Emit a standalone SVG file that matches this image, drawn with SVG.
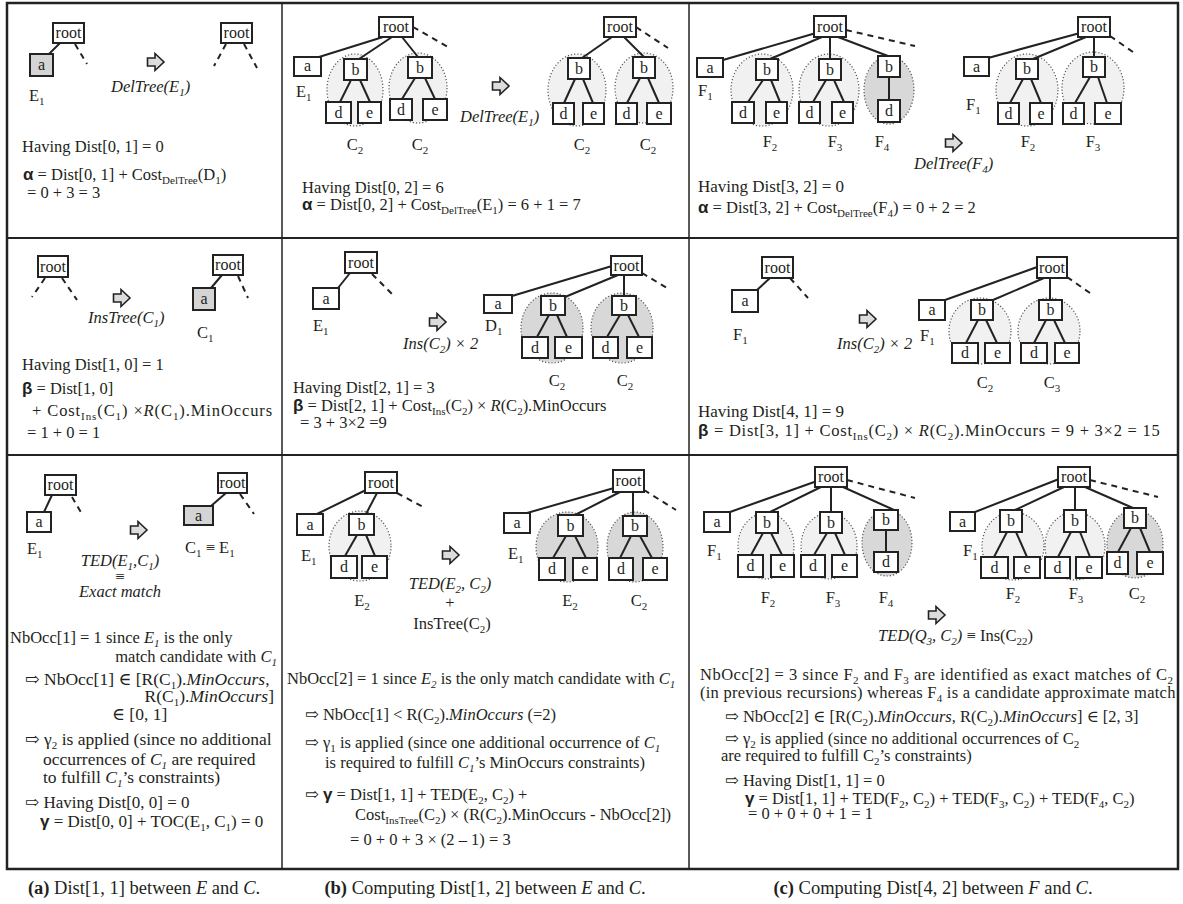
<svg xmlns="http://www.w3.org/2000/svg" xmlns:xlink="http://www.w3.org/1999/xlink" width="1183" height="904" viewBox="0 0 1183 904">
<style>
text { font-family: "Liberation Serif", "DejaVu Serif", serif; fill: #231f20; font-size: 16.5px; }
.nd rect { fill: #fff; stroke: #222; stroke-width: 2; }
.nd.gr rect { fill: #d4d4d4; }
.nd text { font-size: 16px; text-anchor: middle; }
.cn line { stroke: #222; stroke-width: 2; }
.cn line.ds { stroke-dasharray: 6 5; }
.el { fill: #f1f1f1; stroke: #555; stroke-width: 1.2; stroke-dasharray: 1.2 2; }
.ed { fill: #d8d8d8; stroke: #555; stroke-width: 1.2; stroke-dasharray: 1.2 2; }
.i { font-style: italic; }
.s { font-size: 11px; }
.gk { font-family: "Liberation Sans", "DejaVu Sans", sans-serif; font-weight: bold; font-size: 17px; }
.m { text-anchor: middle; }
.e { text-anchor: end; }
.cap { font-size: 18.5px; text-anchor: middle; }
.big { font-size: 17.5px; }
.mid { font-size: 17px; }
.grid { fill: none; stroke: #222; }
</style>
<defs>
<path id="arw" d="M0.5 5 H8 V0.5 L17 9 L8 17.5 V13 H0.5 Z" fill="#dcdcdc" stroke="#222" stroke-width="1.6"/>
</defs>
<rect width="1183" height="904" fill="#fff"/>
<g id="grid" class="grid">
<rect x="7" y="3" width="1171" height="866" stroke-width="2.5"/>
<line x1="282" y1="3" x2="282" y2="869" stroke-width="1.5"/>
<line x1="689" y1="3" x2="689" y2="869" stroke-width="1.5"/>
<line x1="7" y1="238" x2="1178" y2="238" stroke-width="2"/>
<line x1="7" y1="455" x2="1178" y2="455" stroke-width="2"/>
</g>
<g id="regions">
<ellipse class="el" cx="355" cy="90" rx="28" ry="36"/>
<ellipse class="el" cx="418" cy="88" rx="29" ry="35"/>
<ellipse class="el" cx="577" cy="90" rx="29" ry="36"/>
<ellipse class="el" cx="644" cy="88" rx="29" ry="35"/>
<ellipse class="el" cx="762" cy="90" rx="31" ry="36"/>
<ellipse class="el" cx="829" cy="90" rx="30" ry="36"/>
<ellipse class="ed" cx="889" cy="90" rx="25" ry="34"/>
<ellipse class="el" cx="1027" cy="90" rx="31" ry="36"/>
<ellipse class="el" cx="1093" cy="88" rx="31" ry="36"/>
<ellipse class="ed" cx="552" cy="328" rx="31" ry="35"/>
<ellipse class="ed" cx="622" cy="328" rx="31" ry="35"/>
<ellipse class="el" cx="980" cy="331" rx="31" ry="33"/>
<ellipse class="el" cx="1049" cy="331" rx="31" ry="33"/>
<ellipse class="el" cx="360" cy="546" rx="31" ry="35"/>
<ellipse class="ed" cx="567" cy="547" rx="31" ry="35"/>
<ellipse class="ed" cx="635" cy="547" rx="28" ry="35"/>
<ellipse class="el" cx="766" cy="546" rx="28" ry="33"/>
<ellipse class="el" cx="829" cy="546" rx="28" ry="33"/>
<ellipse class="ed" cx="887" cy="543" rx="25" ry="33"/>
<ellipse class="el" cx="1013" cy="546" rx="31" ry="34"/>
<ellipse class="el" cx="1075" cy="546" rx="30" ry="34"/>
<ellipse class="ed" cx="1135" cy="544" rx="28" ry="34"/>
</g>
<g id="connectors" class="cn">
<line x1="60" y1="43" x2="49" y2="54"/>
<line class="ds" x1="75" y1="44" x2="87" y2="64"/>
<line class="ds" x1="226" y1="44" x2="214" y2="66"/>
<line class="ds" x1="244" y1="44" x2="257" y2="68"/>
<line x1="383" y1="37" x2="319" y2="57"/>
<line x1="392" y1="37" x2="359" y2="59"/>
<line x1="402" y1="37" x2="418" y2="57"/>
<line x1="351" y1="80" x2="340" y2="102"/>
<line x1="360" y1="80" x2="370" y2="102"/>
<line x1="415" y1="78" x2="402" y2="99"/>
<line x1="425" y1="78" x2="435" y2="99"/>
<line class="ds" x1="413" y1="27" x2="448" y2="47"/>
<line x1="612" y1="37" x2="582" y2="58"/>
<line x1="624" y1="37" x2="644" y2="57"/>
<line class="ds" x1="636" y1="27" x2="668" y2="48"/>
<line x1="575" y1="79" x2="564" y2="103"/>
<line x1="583" y1="79" x2="593" y2="103"/>
<line x1="640" y1="78" x2="627" y2="103"/>
<line x1="648" y1="78" x2="659" y2="103"/>
<line x1="816" y1="33" x2="723" y2="60"/>
<line x1="822" y1="37" x2="770" y2="59"/>
<line x1="830" y1="37" x2="830" y2="59"/>
<line x1="838" y1="37" x2="888" y2="56"/>
<line class="ds" x1="846" y1="30" x2="915" y2="46"/>
<line x1="763" y1="80" x2="748" y2="102"/>
<line x1="771" y1="80" x2="780" y2="102"/>
<line x1="826" y1="80" x2="813" y2="102"/>
<line x1="834" y1="80" x2="844" y2="102"/>
<line x1="889" y1="77" x2="889" y2="100"/>
<line x1="1080" y1="33" x2="988" y2="58"/>
<line x1="1086" y1="37" x2="1033" y2="59"/>
<line x1="1094" y1="37" x2="1094" y2="57"/>
<line class="ds" x1="1110" y1="36" x2="1133" y2="52"/>
<line x1="1023" y1="79" x2="1010" y2="103"/>
<line x1="1031" y1="79" x2="1041" y2="103"/>
<line x1="1090" y1="77" x2="1075" y2="103"/>
<line x1="1098" y1="77" x2="1107" y2="103"/>
<line class="ds" x1="45" y1="278" x2="32" y2="297"/>
<line class="ds" x1="62" y1="278" x2="77" y2="300"/>
<line x1="222" y1="275" x2="211" y2="288"/>
<line class="ds" x1="238" y1="276" x2="248" y2="298"/>
<line x1="350" y1="273" x2="338" y2="288"/>
<line class="ds" x1="372" y1="274" x2="395" y2="297"/>
<line x1="612" y1="266" x2="512" y2="296"/>
<line x1="618" y1="275" x2="565" y2="297"/>
<line x1="624" y1="275" x2="624" y2="296"/>
<line class="ds" x1="642" y1="273" x2="667" y2="288"/>
<line x1="549" y1="315" x2="537" y2="337"/>
<line x1="557" y1="315" x2="567" y2="337"/>
<line x1="620" y1="315" x2="607" y2="337"/>
<line x1="628" y1="315" x2="639" y2="337"/>
<line x1="770" y1="278" x2="757" y2="290"/>
<line class="ds" x1="790" y1="278" x2="808" y2="298"/>
<line x1="1040" y1="266" x2="945" y2="300"/>
<line x1="1044" y1="278" x2="993" y2="300"/>
<line x1="1050" y1="278" x2="1050" y2="300"/>
<line class="ds" x1="1067" y1="277" x2="1090" y2="293"/>
<line x1="978" y1="320" x2="966" y2="343"/>
<line x1="986" y1="320" x2="997" y2="343"/>
<line x1="1046" y1="320" x2="1034" y2="343"/>
<line x1="1054" y1="320" x2="1065" y2="343"/>
<line x1="52" y1="495" x2="44" y2="512"/>
<line class="ds" x1="72" y1="497" x2="82" y2="514"/>
<line x1="226" y1="493" x2="211" y2="506"/>
<line class="ds" x1="240" y1="494" x2="254" y2="514"/>
<line x1="368" y1="489" x2="317" y2="514"/>
<line x1="377" y1="493" x2="366" y2="514"/>
<line class="ds" x1="397" y1="493" x2="425" y2="508"/>
<line x1="357" y1="535" x2="345" y2="556"/>
<line x1="366" y1="535" x2="375" y2="556"/>
<line x1="614" y1="488" x2="527" y2="513"/>
<line x1="620" y1="492" x2="575" y2="515"/>
<line x1="633" y1="492" x2="633" y2="516"/>
<line class="ds" x1="644" y1="490" x2="676" y2="510"/>
<line x1="566" y1="536" x2="553" y2="558"/>
<line x1="575" y1="536" x2="586" y2="558"/>
<line x1="631" y1="536" x2="620" y2="558"/>
<line x1="640" y1="536" x2="652" y2="558"/>
<line x1="817" y1="481" x2="730" y2="512"/>
<line x1="821" y1="487" x2="770" y2="512"/>
<line x1="831" y1="487" x2="831" y2="512"/>
<line x1="843" y1="487" x2="894" y2="510"/>
<line class="ds" x1="847" y1="480" x2="915" y2="498"/>
<line x1="763" y1="533" x2="751" y2="555"/>
<line x1="771" y1="533" x2="782" y2="555"/>
<line x1="827" y1="533" x2="814" y2="555"/>
<line x1="835" y1="533" x2="845" y2="555"/>
<line x1="886" y1="530" x2="886" y2="552"/>
<line x1="1059" y1="479" x2="975" y2="512"/>
<line x1="1064" y1="487" x2="1015" y2="510"/>
<line x1="1075" y1="487" x2="1075" y2="510"/>
<line x1="1085" y1="487" x2="1133" y2="508"/>
<line class="ds" x1="1090" y1="480" x2="1158" y2="497"/>
<line x1="1007" y1="532" x2="994" y2="557"/>
<line x1="1016" y1="532" x2="1027" y2="557"/>
<line x1="1071" y1="532" x2="1058" y2="557"/>
<line x1="1080" y1="532" x2="1090" y2="557"/>
<line x1="1131" y1="528" x2="1118" y2="552"/>
<line x1="1140" y1="528" x2="1150" y2="552"/>
</g>
<g id="nodes">
<g id="a1-root" class="nd"><rect x="53" y="23" width="31" height="20"/><text x="68.5" y="38">root</text></g>
<g id="a1-a" class="nd gr"><rect x="30" y="54" width="23" height="22"/><text x="41.5" y="70">a</text></g>
<g id="a1-root2" class="nd"><rect x="221" y="23" width="31" height="20"/><text x="236.5" y="38">root</text></g>
<g id="b1-root" class="nd"><rect x="379" y="17" width="34" height="20"/><text x="396" y="32">root</text></g>
<g id="b1-a" class="nd"><rect x="294" y="57" width="27" height="19"/><text x="307.5" y="71">a</text></g>
<g id="b1-b1" class="nd"><rect x="344" y="59" width="23" height="21"/><text x="355.5" y="74.5">b</text></g>
<g id="b1-d1" class="nd"><rect x="326" y="102" width="25" height="21"/><text x="338.5" y="117.5">d</text></g>
<g id="b1-e1" class="nd"><rect x="358" y="102" width="23" height="21"/><text x="369.5" y="117.5">e</text></g>
<g id="b1-b2" class="nd"><rect x="408" y="57" width="24" height="21"/><text x="420" y="72.5">b</text></g>
<g id="b1-d2" class="nd"><rect x="390" y="99" width="22" height="21"/><text x="401" y="114.5">d</text></g>
<g id="b1-e2" class="nd"><rect x="423" y="99" width="24" height="21"/><text x="435" y="114.5">e</text></g>
<g id="b1r-root" class="nd"><rect x="604" y="17" width="32" height="20"/><text x="620" y="32">root</text></g>
<g id="b1r-b1" class="nd"><rect x="568" y="58" width="22" height="21"/><text x="579" y="73.5">b</text></g>
<g id="b1r-d1" class="nd"><rect x="553" y="103" width="21" height="21"/><text x="563.5" y="118.5">d</text></g>
<g id="b1r-e1" class="nd"><rect x="583" y="103" width="21" height="21"/><text x="593.5" y="118.5">e</text></g>
<g id="b1r-b2" class="nd"><rect x="633" y="57" width="22" height="21"/><text x="644" y="72.5">b</text></g>
<g id="b1r-d2" class="nd"><rect x="616" y="103" width="21" height="21"/><text x="626.5" y="118.5">d</text></g>
<g id="b1r-e2" class="nd"><rect x="647" y="103" width="24" height="21"/><text x="659" y="118.5">e</text></g>
<g id="c1-root" class="nd"><rect x="814" y="16" width="32" height="21"/><text x="830" y="31.5">root</text></g>
<g id="c1-a" class="nd"><rect x="697" y="58" width="26" height="19"/><text x="710" y="72.5">a</text></g>
<g id="c1-b1" class="nd"><rect x="756" y="59" width="22" height="21"/><text x="767" y="74.5">b</text></g>
<g id="c1-d1" class="nd"><rect x="732" y="102" width="22" height="21"/><text x="743" y="117.5">d</text></g>
<g id="c1-e1" class="nd"><rect x="766" y="102" width="21" height="21"/><text x="776.5" y="117.5">e</text></g>
<g id="c1-b2" class="nd"><rect x="819" y="59" width="22" height="21"/><text x="830" y="74.5">b</text></g>
<g id="c1-d2" class="nd"><rect x="799" y="102" width="21" height="21"/><text x="809.5" y="117.5">d</text></g>
<g id="c1-e2" class="nd"><rect x="832" y="102" width="21" height="21"/><text x="842.5" y="117.5">e</text></g>
<g id="c1-b3" class="nd"><rect x="878" y="56" width="22" height="21"/><text x="889" y="71.5">b</text></g>
<g id="c1-d3" class="nd"><rect x="878" y="100" width="22" height="22"/><text x="889" y="116">d</text></g>
<g id="c1r-root" class="nd"><rect x="1078" y="17" width="32" height="20"/><text x="1094" y="32">root</text></g>
<g id="c1r-a" class="nd"><rect x="964" y="57" width="25" height="19"/><text x="976.5" y="71.5">a</text></g>
<g id="c1r-b1" class="nd"><rect x="1016" y="59" width="22" height="20"/><text x="1027" y="74">b</text></g>
<g id="c1r-d1" class="nd"><rect x="998" y="103" width="21" height="21"/><text x="1008.5" y="118.5">d</text></g>
<g id="c1r-e1" class="nd"><rect x="1030" y="103" width="22" height="21"/><text x="1041" y="118.5">e</text></g>
<g id="c1r-b2" class="nd"><rect x="1083" y="57" width="22" height="20"/><text x="1094" y="72">b</text></g>
<g id="c1r-d2" class="nd"><rect x="1063" y="103" width="21" height="21"/><text x="1073.5" y="118.5">d</text></g>
<g id="c1r-e2" class="nd"><rect x="1095" y="103" width="26" height="21"/><text x="1108" y="118.5">e</text></g>
<g id="a2-root" class="nd"><rect x="38" y="256" width="30" height="21"/><text x="53" y="271.5">root</text></g>
<g id="a2-root2" class="nd"><rect x="213" y="255" width="30" height="20"/><text x="228" y="270">root</text></g>
<g id="a2-a" class="nd gr"><rect x="193" y="288" width="22" height="22"/><text x="204" y="304">a</text></g>
<g id="b2-root" class="nd"><rect x="345" y="252" width="32" height="21"/><text x="361" y="267.5">root</text></g>
<g id="b2-a" class="nd"><rect x="313" y="288" width="26" height="21"/><text x="326" y="303.5">a</text></g>
<g id="b2r-root" class="nd"><rect x="611" y="256" width="31" height="19"/><text x="626.5" y="270.5">root</text></g>
<g id="b2r-a" class="nd"><rect x="484" y="295" width="28" height="18"/><text x="498" y="309">a</text></g>
<g id="b2r-b1" class="nd"><rect x="541" y="296" width="24" height="19"/><text x="553" y="310.5">b</text></g>
<g id="b2r-d1" class="nd"><rect x="522" y="337" width="26" height="21"/><text x="535" y="352.5">d</text></g>
<g id="b2r-e1" class="nd"><rect x="555" y="337" width="27" height="21"/><text x="568.5" y="352.5">e</text></g>
<g id="b2r-b2" class="nd"><rect x="612" y="296" width="24" height="19"/><text x="624" y="310.5">b</text></g>
<g id="b2r-d2" class="nd"><rect x="593" y="337" width="25" height="21"/><text x="605.5" y="352.5">d</text></g>
<g id="b2r-e2" class="nd"><rect x="627" y="337" width="25" height="21"/><text x="639.5" y="352.5">e</text></g>
<g id="c2-root" class="nd"><rect x="762" y="257" width="31" height="21"/><text x="777.5" y="272.5">root</text></g>
<g id="c2-a" class="nd"><rect x="732" y="290" width="26" height="22"/><text x="745" y="306">a</text></g>
<g id="c2r-root" class="nd"><rect x="1037" y="257" width="30" height="21"/><text x="1052" y="272.5">root</text></g>
<g id="c2r-a" class="nd"><rect x="919" y="300" width="26" height="20"/><text x="932" y="315">a</text></g>
<g id="c2r-b1" class="nd"><rect x="971" y="300" width="22" height="20"/><text x="982" y="315">b</text></g>
<g id="c2r-d1" class="nd"><rect x="952" y="343" width="26" height="20"/><text x="965" y="358">d</text></g>
<g id="c2r-e1" class="nd"><rect x="985" y="343" width="25" height="20"/><text x="997.5" y="358">e</text></g>
<g id="c2r-b2" class="nd"><rect x="1039" y="300" width="23" height="20"/><text x="1050.5" y="315">b</text></g>
<g id="c2r-d2" class="nd"><rect x="1021" y="343" width="26" height="20"/><text x="1034" y="358">d</text></g>
<g id="c2r-e2" class="nd"><rect x="1055" y="343" width="24" height="20"/><text x="1067" y="358">e</text></g>
<g id="a3-root" class="nd"><rect x="45" y="475" width="31" height="20"/><text x="60.5" y="490">root</text></g>
<g id="a3-a" class="nd"><rect x="27" y="512" width="24" height="20"/><text x="39" y="527">a</text></g>
<g id="a3-root2" class="nd"><rect x="218" y="473" width="29" height="20"/><text x="232.5" y="488">root</text></g>
<g id="a3-a2" class="nd gr"><rect x="184" y="506" width="29" height="19"/><text x="198.5" y="520.5">a</text></g>
<g id="b3-root" class="nd"><rect x="365" y="472" width="32" height="21"/><text x="381" y="487.5">root</text></g>
<g id="b3-a" class="nd"><rect x="297" y="514" width="26" height="21"/><text x="310" y="529.5">a</text></g>
<g id="b3-b" class="nd"><rect x="349" y="514" width="25" height="21"/><text x="361.5" y="529.5">b</text></g>
<g id="b3-d" class="nd"><rect x="331" y="556" width="26" height="22"/><text x="344" y="572">d</text></g>
<g id="b3-e" class="nd"><rect x="362" y="556" width="25" height="22"/><text x="374.5" y="572">e</text></g>
<g id="b3r-root" class="nd"><rect x="613" y="470" width="31" height="22"/><text x="628.5" y="486">root</text></g>
<g id="b3r-a" class="nd"><rect x="504" y="513" width="26" height="20"/><text x="517" y="528">a</text></g>
<g id="b3r-b1" class="nd"><rect x="558" y="515" width="25" height="21"/><text x="570.5" y="530.5">b</text></g>
<g id="b3r-d1" class="nd"><rect x="539" y="558" width="26" height="22"/><text x="552" y="574">d</text></g>
<g id="b3r-e1" class="nd"><rect x="573" y="558" width="24" height="22"/><text x="585" y="574">e</text></g>
<g id="b3r-b2" class="nd"><rect x="623" y="516" width="24" height="20"/><text x="635" y="531">b</text></g>
<g id="b3r-d2" class="nd"><rect x="609" y="558" width="24" height="22"/><text x="621" y="574">d</text></g>
<g id="b3r-e2" class="nd"><rect x="643" y="558" width="24" height="22"/><text x="655" y="574">e</text></g>
<g id="c3-root" class="nd"><rect x="815" y="467" width="32" height="20"/><text x="831" y="482">root</text></g>
<g id="c3-a" class="nd"><rect x="704" y="512" width="26" height="20"/><text x="717" y="527">a</text></g>
<g id="c3-b1" class="nd"><rect x="756" y="512" width="22" height="21"/><text x="767" y="527.5">b</text></g>
<g id="c3-d1" class="nd"><rect x="738" y="555" width="25" height="22"/><text x="750.5" y="571">d</text></g>
<g id="c3-e1" class="nd"><rect x="771" y="555" width="23" height="22"/><text x="782.5" y="571">e</text></g>
<g id="c3-b2" class="nd"><rect x="820" y="512" width="22" height="21"/><text x="831" y="527.5">b</text></g>
<g id="c3-d2" class="nd"><rect x="801" y="555" width="24" height="22"/><text x="813" y="571">d</text></g>
<g id="c3-e2" class="nd"><rect x="832" y="555" width="25" height="22"/><text x="844.5" y="571">e</text></g>
<g id="c3-b3" class="nd"><rect x="874" y="510" width="24" height="20"/><text x="886" y="525">b</text></g>
<g id="c3-d3" class="nd"><rect x="874" y="552" width="24" height="20"/><text x="886" y="567">d</text></g>
<g id="c3r-root" class="nd"><rect x="1058" y="467" width="32" height="20"/><text x="1074" y="482">root</text></g>
<g id="c3r-a" class="nd"><rect x="950" y="512" width="25" height="19"/><text x="962.5" y="526.5">a</text></g>
<g id="c3r-b1" class="nd"><rect x="1000" y="510" width="22" height="22"/><text x="1011" y="526">b</text></g>
<g id="c3r-d1" class="nd"><rect x="981" y="557" width="27" height="21"/><text x="994.5" y="572.5">d</text></g>
<g id="c3r-e1" class="nd"><rect x="1014" y="557" width="26" height="21"/><text x="1027" y="572.5">e</text></g>
<g id="c3r-b2" class="nd"><rect x="1064" y="510" width="22" height="22"/><text x="1075" y="526">b</text></g>
<g id="c3r-d2" class="nd"><rect x="1045" y="557" width="25" height="21"/><text x="1057.5" y="572.5">d</text></g>
<g id="c3r-e2" class="nd"><rect x="1076" y="557" width="26" height="21"/><text x="1089" y="572.5">e</text></g>
<g id="c3r-b3" class="nd"><rect x="1124" y="508" width="22" height="20"/><text x="1135" y="523">b</text></g>
<g id="c3r-d3" class="nd"><rect x="1107" y="552" width="21" height="22"/><text x="1117.5" y="568">d</text></g>
<g id="c3r-e3" class="nd"><rect x="1137" y="552" width="26" height="22"/><text x="1150" y="568">e</text></g>
</g>
<g id="arrows">
<use href="#arw" x="147" y="53"/>
<use href="#arw" x="492" y="77"/>
<use href="#arw" x="945" y="134"/>
<use href="#arw" x="113" y="289"/>
<use href="#arw" x="429" y="313"/>
<use href="#arw" x="859" y="310"/>
<use href="#arw" x="130" y="521"/>
<use href="#arw" x="442" y="546"/>
<use href="#arw" x="928" y="606"/>
</g>
<g id="labels">
<text x="29" y="101">E<tspan class="s" dy="4">1</tspan></text>
<text class="i" x="111" y="92">DelTree(E<tspan class="s" dy="4">1</tspan><tspan dy="-4">)</tspan></text>
<text x="22" y="152">Having Dist[0, 1] = 0</text>
<text x="23" y="180"><tspan class="gk">α</tspan> = Dist[0, 1] + Cost<tspan class="s" dy="4">DelTree</tspan><tspan dy="-4">(D</tspan><tspan class="s" dy="4">1</tspan><tspan dy="-4">)</tspan></text>
<text x="27" y="198">= 0 + 3 = 3</text>

<text x="296" y="97">E<tspan class="s" dy="4">1</tspan></text>
<text class="m" x="355" y="150">C<tspan class="s" dy="4">2</tspan></text>
<text class="m" x="420" y="150">C<tspan class="s" dy="4">2</tspan></text>
<text class="i" x="460" y="122">DelTree(E<tspan class="s" dy="4">1</tspan><tspan dy="-4">)</tspan></text>
<text class="m" x="582" y="150">C<tspan class="s" dy="4">2</tspan></text>
<text class="m" x="648" y="150">C<tspan class="s" dy="4">2</tspan></text>
<text x="302" y="193">Having Dist[0, 2] = 6</text>
<text x="302" y="210"><tspan class="gk">α</tspan> = Dist[0, 2] + Cost<tspan class="s" dy="4">DelTree</tspan><tspan dy="-4">(E</tspan><tspan class="s" dy="4">1</tspan><tspan dy="-4">) = 6 + 1 = 7</tspan></text>

<text x="698" y="96">F<tspan class="s" dy="4">1</tspan></text>
<text class="m" x="770" y="147">F<tspan class="s" dy="4">2</tspan></text>
<text class="m" x="835" y="147">F<tspan class="s" dy="4">3</tspan></text>
<text class="m" x="882" y="147">F<tspan class="s" dy="4">4</tspan></text>
<text class="i" x="914" y="169">DelTree(F<tspan class="s" dy="4">4</tspan><tspan dy="-4">)</tspan></text>
<text x="966" y="110">F<tspan class="s" dy="4">1</tspan></text>
<text class="m" x="1028" y="147">F<tspan class="s" dy="4">2</tspan></text>
<text class="m" x="1093" y="147">F<tspan class="s" dy="4">3</tspan></text>
<text class="mid" x="698" y="192">Having Dist[3, 2] = 0</text>
<text x="698" y="213"><tspan class="gk">α</tspan> = Dist[3, 2] + Cost<tspan class="s" dy="4">DelTree</tspan><tspan dy="-4">(F</tspan><tspan class="s" dy="4">4</tspan><tspan dy="-4">) = 0 + 2 = 2</tspan></text>

<text class="i" x="88" y="323">InsTree(C<tspan class="s" dy="4">1</tspan><tspan dy="-4">)</tspan></text>
<text x="197" y="338">C<tspan class="s" dy="4">1</tspan></text>
<text x="22" y="370">Having Dist[1, 0] = 1</text>
<text x="22" y="394"><tspan class="gk">β</tspan> = Dist[1, 0]</text>
<text x="32" y="416" letter-spacing="0.9">+ Cost<tspan class="s" dy="4">Ins</tspan><tspan dy="-4">(C</tspan><tspan class="s" dy="4">1</tspan><tspan dy="-4">) ×</tspan><tspan class="i">R</tspan>(C<tspan class="s" dy="4">1</tspan><tspan dy="-4">).MinOccurs</tspan></text>
<text x="27" y="438">= 1 + 0 = 1</text>

<text x="313" y="331">E<tspan class="s" dy="4">1</tspan></text>
<text class="i" x="403" y="349">Ins(C<tspan class="s" dy="4">2</tspan><tspan dy="-4">) × 2</tspan></text>
<text x="485" y="331">D<tspan class="s" dy="4">1</tspan></text>
<text class="m" x="557" y="386">C<tspan class="s" dy="4">2</tspan></text>
<text class="m" x="625" y="386">C<tspan class="s" dy="4">2</tspan></text>
<text x="293" y="393">Having Dist[2, 1] = 3</text>
<text x="293" y="411"><tspan class="gk">β</tspan> = Dist[2, 1] + Cost<tspan class="s" dy="4">Ins</tspan><tspan dy="-4">(C</tspan><tspan class="s" dy="4">2</tspan><tspan dy="-4">) × </tspan><tspan class="i">R</tspan>(C<tspan class="s" dy="4">2</tspan><tspan dy="-4">).MinOccurs</tspan></text>
<text x="300" y="428">= 3 + 3×2 =9</text>

<text x="733" y="340">F<tspan class="s" dy="4">1</tspan></text>
<text class="i" x="837" y="349">Ins(C<tspan class="s" dy="4">2</tspan><tspan dy="-4">) × 2</tspan></text>
<text x="920" y="341">F<tspan class="s" dy="4">1</tspan></text>
<text class="m" x="985" y="388">C<tspan class="s" dy="4">2</tspan></text>
<text class="m" x="1052" y="388">C<tspan class="s" dy="4">3</tspan></text>
<text class="mid" x="698" y="417">Having Dist[4, 1] = 9</text>
<text x="698" y="436" letter-spacing="0.75"><tspan class="gk">β</tspan> = Dist[3, 1] + Cost<tspan class="s" dy="4">Ins</tspan><tspan dy="-4">(C</tspan><tspan class="s" dy="4">2</tspan><tspan dy="-4">) × </tspan><tspan class="i">R</tspan>(C<tspan class="s" dy="4">2</tspan><tspan dy="-4">).MinOccurs = 9 + 3×2 = 15</tspan></text>

<text x="27" y="554">E<tspan class="s" dy="4">1</tspan></text>
<text class="i m" x="120" y="566">TED(E<tspan class="s" dy="4">1</tspan><tspan dy="-4">,C</tspan><tspan class="s" dy="4">1</tspan><tspan dy="-4">)</tspan></text>
<text class="m" x="120" y="582">≡</text>
<text class="i m" x="120" y="597">Exact match</text>
<text x="185" y="553">C<tspan class="s" dy="4">1</tspan><tspan dy="-4"> ≡ E</tspan><tspan class="s" dy="4">1</tspan></text>
<text x="10" y="643">NbOcc[1] = 1 since <tspan class="i">E</tspan><tspan class="s i" dy="4">1</tspan><tspan dy="-4"> is the only</tspan></text>
<text class="e" x="277" y="662">match candidate with <tspan class="i">C</tspan><tspan class="s i" dy="4">1</tspan></text>
<text class="big" x="25" y="685">⇨  NbOcc[1] ∈ [R(C<tspan class="s" dy="4">1</tspan><tspan dy="-4">).</tspan><tspan class="i">MinOccurs</tspan>,</text>
<text class="e big" x="274" y="702">R(C<tspan class="s" dy="4">1</tspan><tspan dy="-4">).</tspan><tspan class="i">MinOccurs</tspan>]</text>
<text class="big" x="112" y="720">∈ [0, 1]</text>
<text class="big" x="25" y="745">⇨ γ<tspan class="s" dy="4">2</tspan><tspan dy="-4"> is applied (since no additional</tspan></text>
<text class="big" x="43" y="765">occurrences of <tspan class="i">C</tspan><tspan class="s i" dy="4">1</tspan><tspan dy="-4"> are required</tspan></text>
<text class="big" x="43" y="783">to fulfill <tspan class="i">C</tspan><tspan class="s i" dy="4">1</tspan><tspan dy="-4">’s constraints)</tspan></text>
<text class="mid" x="25" y="808">⇨  Having Dist[0, 0] = 0</text>
<text class="mid" x="40" y="827"><tspan class="gk">γ</tspan> = Dist[0, 0] + TOC(E<tspan class="s" dy="4">1</tspan><tspan dy="-4">, C</tspan><tspan class="s" dy="4">1</tspan><tspan dy="-4">) = 0</tspan></text>

<text x="301" y="561">E<tspan class="s" dy="4">1</tspan></text>
<text class="m" x="362" y="606">E<tspan class="s" dy="4">2</tspan></text>
<text class="i m" x="450" y="589">TED(E<tspan class="s" dy="4">2</tspan><tspan dy="-4">, C</tspan><tspan class="s" dy="4">2</tspan><tspan dy="-4">)</tspan></text>
<text class="m" x="450" y="608">+</text>
<text class="m" x="452" y="629">InsTree(C<tspan class="s" dy="4">2</tspan><tspan dy="-4">)</tspan></text>
<text x="508" y="559">E<tspan class="s" dy="4">1</tspan></text>
<text class="m" x="570" y="606">E<tspan class="s" dy="4">2</tspan></text>
<text class="m" x="639" y="606">C<tspan class="s" dy="4">2</tspan></text>
<text x="287" y="684">NbOcc[2] = 1 since <tspan class="i">E</tspan><tspan class="s i" dy="4">2</tspan><tspan dy="-4"> is the only match candidate with </tspan><tspan class="i">C</tspan><tspan class="s i" dy="4">1</tspan></text>
<text x="305" y="720">⇨ NbOcc[1] &lt;  R(C<tspan class="s" dy="4">2</tspan><tspan dy="-4">).</tspan><tspan class="i">MinOccurs</tspan> (=2)</text>
<text x="305" y="748">⇨ γ<tspan class="s" dy="4">1</tspan><tspan dy="-4"> is applied (since one additional occurrence of </tspan><tspan class="i">C</tspan><tspan class="s i" dy="4">1</tspan></text>
<text x="325" y="768">is required to fulfill <tspan class="i">C</tspan><tspan class="s i" dy="4">1</tspan><tspan dy="-4">’s MinOccurs constraints)</tspan></text>
<text x="305" y="800">⇨ <tspan class="gk">γ</tspan> = Dist[1, 1] + TED(E<tspan class="s" dy="4">2</tspan><tspan dy="-4">, C</tspan><tspan class="s" dy="4">2</tspan><tspan dy="-4">) +</tspan></text>
<text x="355" y="820">Cost<tspan class="s" dy="4">InsTree</tspan><tspan dy="-4">(C</tspan><tspan class="s" dy="4">2</tspan><tspan dy="-4">) × (R(C</tspan><tspan class="s" dy="4">2</tspan><tspan dy="-4">).MinOccurs - NbOcc[2])</tspan></text>
<text x="350" y="845">= 0 + 0 + 3 × (2 – 1) = 3</text>

<text x="707" y="556">F<tspan class="s" dy="4">1</tspan></text>
<text class="m" x="768" y="603">F<tspan class="s" dy="4">2</tspan></text>
<text class="m" x="833" y="603">F<tspan class="s" dy="4">3</tspan></text>
<text class="m" x="886" y="603">F<tspan class="s" dy="4">4</tspan></text>
<text x="963" y="556">F<tspan class="s" dy="4">1</tspan></text>
<text class="m" x="1013" y="599">F<tspan class="s" dy="4">2</tspan></text>
<text class="m" x="1076" y="599">F<tspan class="s" dy="4">3</tspan></text>
<text class="m" x="1137" y="599">C<tspan class="s" dy="4">2</tspan></text>
<text x="878" y="641"><tspan class="i">TED(Q</tspan><tspan class="s i" dy="4">3</tspan><tspan class="i" dy="-4">, C</tspan><tspan class="s i" dy="4">2</tspan><tspan class="i" dy="-4">)</tspan> ≡ Ins(C<tspan class="s" dy="4">22</tspan><tspan dy="-4">)</tspan></text>
<text x="700" y="680" letter-spacing="0.5">NbOcc[2] = 3 since F<tspan class="s" dy="4">2</tspan><tspan dy="-4"> and F</tspan><tspan class="s" dy="4">3</tspan><tspan dy="-4"> are identified as exact matches of C</tspan><tspan class="s" dy="4">2</tspan></text>
<text x="700" y="698" letter-spacing="0.25">(in previous recursions) whereas F<tspan class="s" dy="4">4</tspan><tspan dy="-4"> is a candidate approximate match</tspan></text>
<text x="725" y="722">⇨ NbOcc[2] ∈ [R(C<tspan class="s" dy="4">2</tspan><tspan dy="-4">).</tspan><tspan class="i">MinOccurs</tspan>, R(C<tspan class="s" dy="4">2</tspan><tspan dy="-4">).</tspan><tspan class="i">MinOccurs</tspan>] ∈ [2, 3]</text>
<text x="725" y="744">⇨ γ<tspan class="s" dy="4">2</tspan><tspan dy="-4"> is applied (since no additional occurrences of C</tspan><tspan class="s" dy="4">2</tspan></text>
<text x="721" y="761">are required to fulfill C<tspan class="s" dy="4">2</tspan><tspan dy="-4">’s constraints)</tspan></text>
<text x="725" y="786">⇨  Having Dist[1, 1] = 0</text>
<text x="745" y="804"><tspan class="gk">γ</tspan> = Dist[1, 1] + TED(F<tspan class="s" dy="4">2</tspan><tspan dy="-4">, C</tspan><tspan class="s" dy="4">2</tspan><tspan dy="-4">) + TED(F</tspan><tspan class="s" dy="4">3</tspan><tspan dy="-4">, C</tspan><tspan class="s" dy="4">2</tspan><tspan dy="-4">) + TED(F</tspan><tspan class="s" dy="4">4</tspan><tspan dy="-4">, C</tspan><tspan class="s" dy="4">2</tspan><tspan dy="-4">)</tspan></text>
<text x="748" y="819">= 0 + 0 + 0 + 1 = 1</text>
</g>
<g id="captions">
<text class="cap" x="144" y="894"><tspan font-weight="bold">(a)</tspan> Dist[1, 1] between <tspan class="i">E</tspan> and <tspan class="i">C</tspan>.</text>
<text class="cap" x="485" y="894"><tspan font-weight="bold">(b)</tspan> Computing Dist[1, 2] between <tspan class="i">E</tspan> and <tspan class="i">C</tspan>.</text>
<text class="cap" x="933" y="894"><tspan font-weight="bold">(c)</tspan> Computing Dist[4, 2] between <tspan class="i">F</tspan> and <tspan class="i">C</tspan>.</text>
</g>
</svg>
